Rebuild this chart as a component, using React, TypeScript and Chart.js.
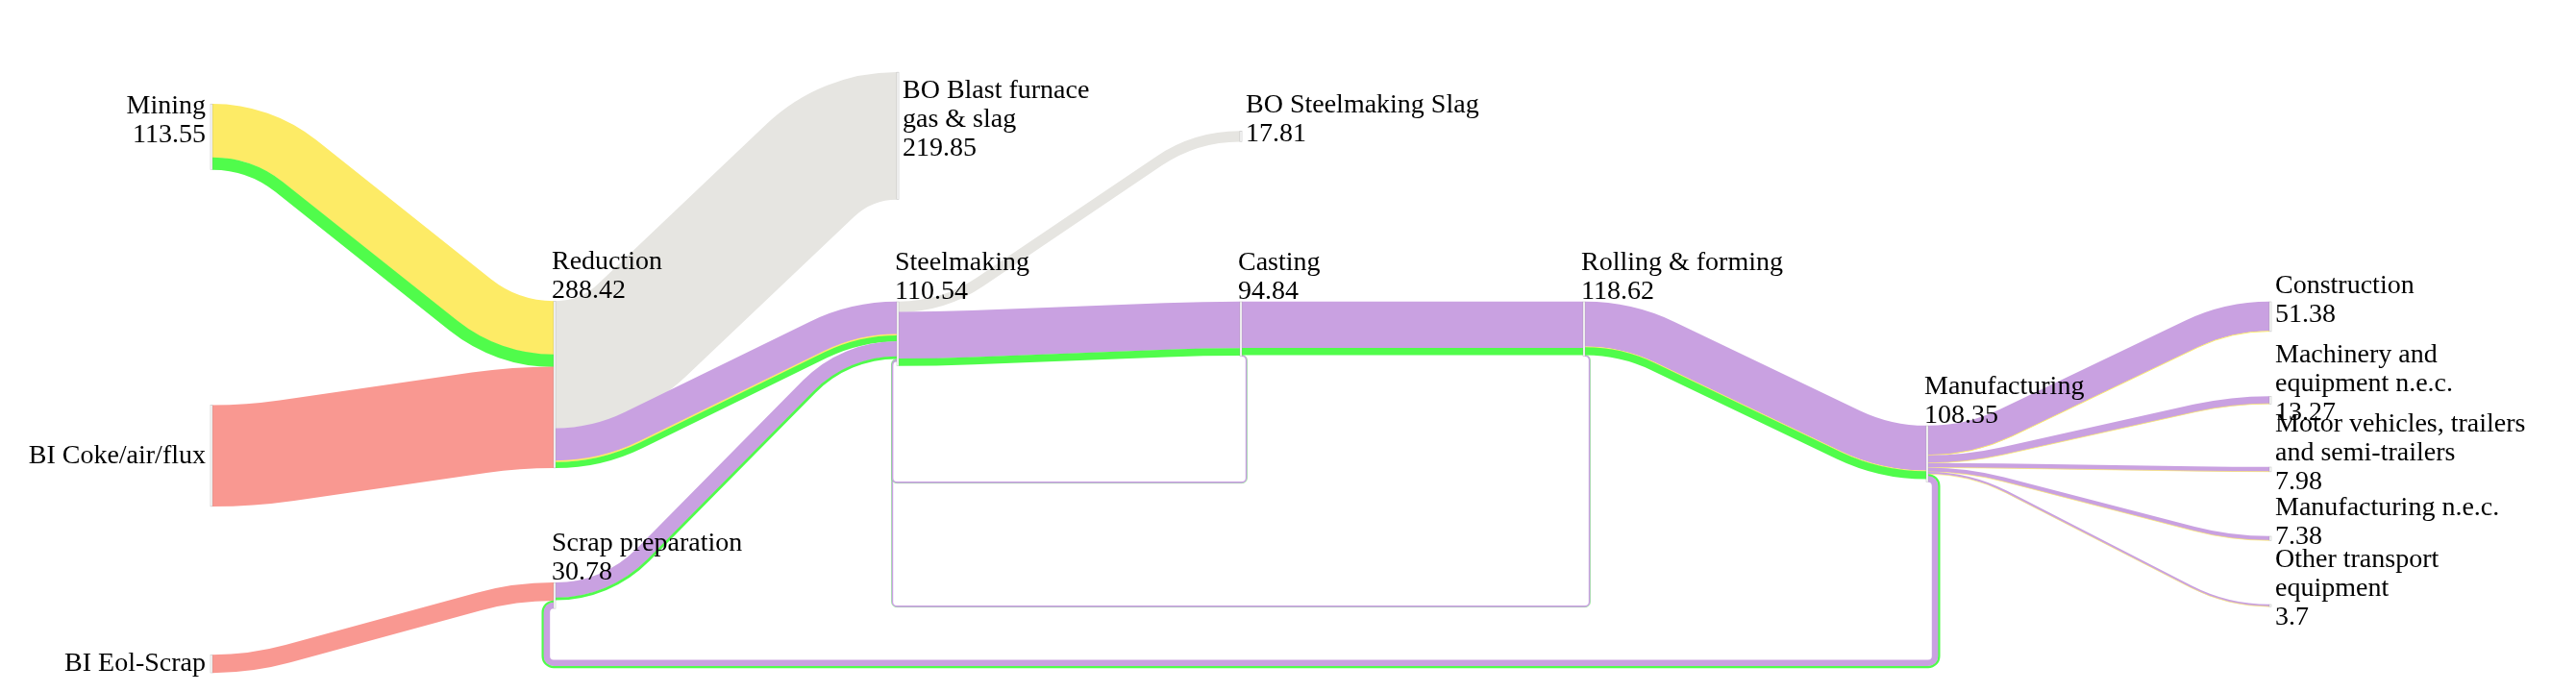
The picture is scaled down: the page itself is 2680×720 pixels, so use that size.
import { useEffect, useRef } from 'react';
import { Chart, registerables } from 'chart.js';

Chart.register(...registerables);

// nodes of the steel flow (names, printed totals, column and top on the y scale)
const nodeNames = [
  'Mining', 'BI Coke/air/flux', 'BI Eol-Scrap',
  'Reduction', 'Scrap preparation',
  'BO Blast furnace gas & slag', 'Steelmaking',
  'BO Steelmaking Slag', 'Casting',
  'Rolling & forming',
  'Manufacturing',
  'Construction', 'Machinery and equipment n.e.c.', 'Motor vehicles, trailers and semi-trailers',
  'Manufacturing n.e.c.', 'Other transport equipment',
];
const nodeTitles = [
  'Mining', 'BI Coke/air/flux', 'BI Eol-Scrap',
  'Reduction', 'Scrap preparation',
  'BO Blast furnace\ngas & slag', 'Steelmaking',
  'BO Steelmaking Slag', 'Casting',
  'Rolling & forming',
  'Manufacturing',
  'Construction', 'Machinery and\nequipment n.e.c.', 'Motor vehicles, trailers\nand semi-trailers',
  'Manufacturing n.e.c.', 'Other transport\nequipment',
];
const nodeTotals = [
  '113.55', '', '',
  '288.42', '30.78',
  '219.85', '110.54',
  '17.81', '94.84',
  '118.62',
  '108.35',
  '51.38', '13.27', '7.98', '7.38', '3.7',
];
const nodeColumn = [0, 0, 0, 1, 1, 2, 2, 3, 3, 4, 5, 6, 6, 6, 6, 6];
const nodeTop = [180, 701, 1133, 521, 1008, 125, 522, 227, 522, 522, 736.5, 522, 685.5, 808, 927.7, 1045.7];

// links (same source/target pairs are kept next to each other)
const linkSource = [
  'Mining', 'Mining', 'BI Coke/air/flux', 'BI Eol-Scrap',
  'Reduction', 'Reduction', 'Reduction', 'Reduction',
  'Scrap preparation', 'Scrap preparation',
  'Steelmaking', 'Steelmaking', 'Steelmaking',
  'Casting', 'Casting',
  'Rolling & forming', 'Rolling & forming', 'Rolling & forming',
  'Rolling & forming', 'Rolling & forming',
  'Casting', 'Casting',
  'Manufacturing', 'Manufacturing', 'Manufacturing', 'Manufacturing', 'Manufacturing',
  'Manufacturing', 'Manufacturing', 'Manufacturing', 'Manufacturing', 'Manufacturing',
  'Manufacturing', 'Manufacturing',
];
const linkTarget = [
  'Reduction', 'Reduction', 'Reduction', 'Scrap preparation',
  'BO Blast furnace gas & slag', 'Steelmaking', 'Steelmaking', 'Steelmaking',
  'Steelmaking', 'Steelmaking',
  'BO Steelmaking Slag', 'Casting', 'Casting',
  'Rolling & forming', 'Rolling & forming',
  'Manufacturing', 'Manufacturing', 'Manufacturing',
  'Steelmaking', 'Steelmaking',
  'Steelmaking', 'Steelmaking',
  'Construction', 'Construction',
  'Machinery and equipment n.e.c.', 'Machinery and equipment n.e.c.',
  'Motor vehicles, trailers and semi-trailers', 'Motor vehicles, trailers and semi-trailers',
  'Manufacturing n.e.c.', 'Manufacturing n.e.c.',
  'Other transport equipment', 'Other transport equipment',
  'Scrap preparation', 'Scrap preparation',
];
const linkValue = [
  92.45, 21.1, 174.87, 30.78,
  219.85, 56.2, 2.4, 9.97,
  26.1, 3.8,
  17.81, 80.5, 12.2,
  80.0, 12.0,
  77.5, 1.5, 13.0,
  0.5, 2.0,
  0.5, 2.0,
  50.48, 0.9,
  12.67, 0.6,
  7.48, 0.5,
  6.88, 0.5,
  3.3, 0.4,
  3.5, 10.3,
];
const linkMaterial = [
  'yellow', 'green', 'pink', 'pink',
  'grey', 'purple', 'yellow', 'green',
  'purple', 'green',
  'grey', 'purple', 'green',
  'purple', 'green',
  'purple', 'yellow', 'green',
  'green', 'purple',
  'green', 'purple',
  'purple', 'yellow',
  'purple', 'yellow',
  'purple', 'yellow',
  'purple', 'yellow',
  'purple', 'yellow',
  'green', 'purple',
];

// depth of the return loops on the y scale, by source node
const loopBottom: { [key: string]: number } = {
  'Casting': 834.6,
  'Rolling & forming': 1049,
  'Manufacturing': 1148.5,
};

const materialColors: { [key: string]: string } = {
  yellow: '#fdeb66',
  green: '#50fc4b',
  pink: '#f99891',
  grey: '#e6e5e1',
  purple: '#c9a1e1',
};

const FONT = "28px 'Liberation Serif', 'Times New Roman', serif";
const LINE = 30;
const NODE_W = 2;

// angle of the straight part between two arcs of total radius R
const solveAngle = (dx: number, dy: number, R: number) => {
  let lo = 0;
  let hi = 2 * Math.atan(dy / dx);
  for (let k = 0; k < 60; k++) {
    const m = (lo + hi) / 2;
    const f = dx * Math.sin(m) - dy * Math.cos(m) - R * (1 - Math.cos(m));
    if (f > 0) hi = m; else lo = m;
  }
  return (lo + hi) / 2;
};

const sankeyPlugin = {
  id: 'sankeyPainter',
  afterDatasetsDraw(chart: Chart) {
    const { ctx } = chart;
    const sx = chart.scales.x;
    const sy = chart.scales.y;
    const unit = (v: number) => Math.abs(sy.getPixelForValue(v) - sy.getPixelForValue(0));
    const n = nodeNames.length;
    const nx = nodeColumn.map((c) => sx.getPixelForValue(c));
    const ny = nodeTop.map((t) => sy.getPixelForValue(t));
    const inSum = new Array(n).fill(0);
    const outSum = new Array(n).fill(0);

    const links = linkValue.map((v, i) => {
      const s = nodeNames.indexOf(linkSource[i]);
      const t = nodeNames.indexOf(linkTarget[i]);
      const h = unit(v);
      const y0 = ny[s] + outSum[s];
      outSum[s] += h;
      const y1 = ny[t] + inSum[t];
      inSum[t] += h;
      return { s, t, h, y0, y1, color: materialColors[linkMaterial[i]] };
    });

    const bundles: (typeof links)[] = [];
    links.forEach((l) => {
      const last = bundles[bundles.length - 1];
      if (last && last[0].s === l.s && last[0].t === l.t) last.push(l);
      else bundles.push([l]);
    });

    const PI = Math.PI;
    ctx.save();
    ctx.lineCap = 'butt';
    bundles.forEach((b) => {
      const first = b[0];
      const lastL = b[b.length - 1];
      const yc0 = (first.y0 + lastL.y0 + lastL.h) / 2;
      const yc1 = (first.y1 + lastL.y1 + lastL.h) / 2;
      const H = lastL.y0 + lastL.h - first.y0;
      const x0 = nx[first.s] + NODE_W / 2;
      const x1 = nx[first.t] - NODE_W / 2;
      const isLoop = nodeColumn[first.t] <= nodeColumn[first.s];

      if (isLoop) {
        const yb = sy.getPixelForValue(loopBottom[nodeNames[first.s]]);
        const r = H / 2 + 4;
        b.forEach((l) => {
          const d = l.y0 + l.h / 2 - yc0;
          const rho = Math.max(0.01, r - d);
          ctx.beginPath();
          ctx.moveTo(x0, yc0 + d);
          ctx.arc(x0, yc0 + r, rho, -PI / 2, 0, false);
          ctx.arc(x0, yb - r, rho, 0, PI / 2, false);
          ctx.arc(x1, yb - r, rho, PI / 2, PI, false);
          ctx.arc(x1, yc1 + r, rho, PI, (3 * PI) / 2, false);
          ctx.strokeStyle = l.color;
          ctx.lineWidth = l.h + 0.4;
          ctx.stroke();
        });
        return;
      }

      const dx = x1 - x0;
      const ady = Math.abs(yc1 - yc0);
      if (ady < 0.5) {
        b.forEach((l) => {
          ctx.beginPath();
          ctx.moveTo(x0, l.y0 + l.h / 2);
          ctx.lineTo(x1, l.y1 + l.h / 2);
          ctx.strokeStyle = l.color;
          ctx.lineWidth = l.h + 0.4;
          ctx.stroke();
        });
        return;
      }
      const Rs = (dx * dx + ady * ady) / (4 * ady);
      const r = Math.min(Rs, Math.max(0.68 * Rs, H / 2 + 4));
      const th = solveAngle(dx, ady, 2 * r);
      const down = yc1 > yc0;
      b.forEach((l) => {
        const d = l.y0 + l.h / 2 - yc0;
        ctx.beginPath();
        ctx.moveTo(x0, yc0 + d);
        if (down) {
          ctx.arc(x0, yc0 + r, Math.max(0.01, r - d), -PI / 2, -PI / 2 + th, false);
          ctx.arc(x1, yc1 - r, Math.max(0.01, r + d), PI / 2 + th, PI / 2, true);
        } else {
          ctx.arc(x0, yc0 - r, Math.max(0.01, r + d), PI / 2, PI / 2 - th, true);
          ctx.arc(x1, yc1 + r, Math.max(0.01, r - d), -PI / 2 - th, -PI / 2, false);
        }
        ctx.strokeStyle = l.color;
        ctx.lineWidth = l.h + 0.4;
        ctx.stroke();
      });
    });

    // nodes: thin white bars
    for (let i = 0; i < n; i++) {
      const hgt = Math.max(inSum[i], outSum[i]);
      ctx.fillStyle = '#ffffff';
      ctx.fillRect(nx[i] - NODE_W / 2, ny[i], NODE_W, hgt);
      ctx.strokeStyle = 'rgba(150,150,150,0.55)';
      ctx.lineWidth = 0.6;
      ctx.strokeRect(nx[i] - NODE_W / 2, ny[i], NODE_W, hgt);
    }

    // labels
    ctx.font = FONT;
    ctx.fillStyle = '#000000';
    for (let i = 0; i < n; i++) {
      const lines = nodeTitles[i].split('\n');
      if (nodeTotals[i]) lines.push(nodeTotals[i]);
      const hgt = Math.max(inSum[i], outSum[i]);
      const isSource = inSum[i] === 0;
      const isSink = outSum[i] === 0;
      if (isSource || isSink) {
        const c = ny[i] + hgt / 2 - (lines.length > 1 ? 17 : 0);
        ctx.textAlign = isSource ? 'right' : 'left';
        ctx.textBaseline = 'middle';
        const tx = isSource ? nx[i] - 6 : nx[i] + 5;
        lines.forEach((t, k) => {
          ctx.fillText(t, tx, c + (k - (lines.length - 1) / 2) * LINE);
        });
      } else {
        ctx.textAlign = 'left';
        ctx.textBaseline = 'alphabetic';
        lines.forEach((t, k) => {
          ctx.fillText(t, nx[i] - 3, ny[i] - 3 - (lines.length - 1 - k) * LINE);
        });
      }
    }
    ctx.restore();
  },
};

const App = () => {
  const canvasRef = useRef<HTMLCanvasElement | null>(null);

  useEffect(() => {
    if (!canvasRef.current) return;
    const chart = new Chart(canvasRef.current, {
      type: 'scatter',
      data: {
        datasets: [{
          label: 'nodes',
          data: nodeColumn.map((c, i) => ({ x: c, y: nodeTop[i] })),
          pointRadius: 0,
        }],
      },
      options: {
        animation: false,
        responsive: true,
        maintainAspectRatio: false,
        events: [],
        layout: { padding: { left: 220, right: 318, top: 0, bottom: 0 } },
        scales: {
          x: { type: 'linear', min: 0, max: 6, display: false },
          y: { type: 'linear', min: 0, max: 1197, reverse: true, display: false },
        },
        plugins: {
          legend: { display: false },
          tooltip: { enabled: false },
        },
      },
      plugins: [sankeyPlugin],
    });

    return () => {
      chart.destroy();
    };
  }, []);

  return (
    <div style={{ position: 'absolute', left: 0, top: 0, width: 2680, height: 720, background: '#fff' }}>
      <canvas ref={canvasRef} />
    </div>
  );
};

export default App;
